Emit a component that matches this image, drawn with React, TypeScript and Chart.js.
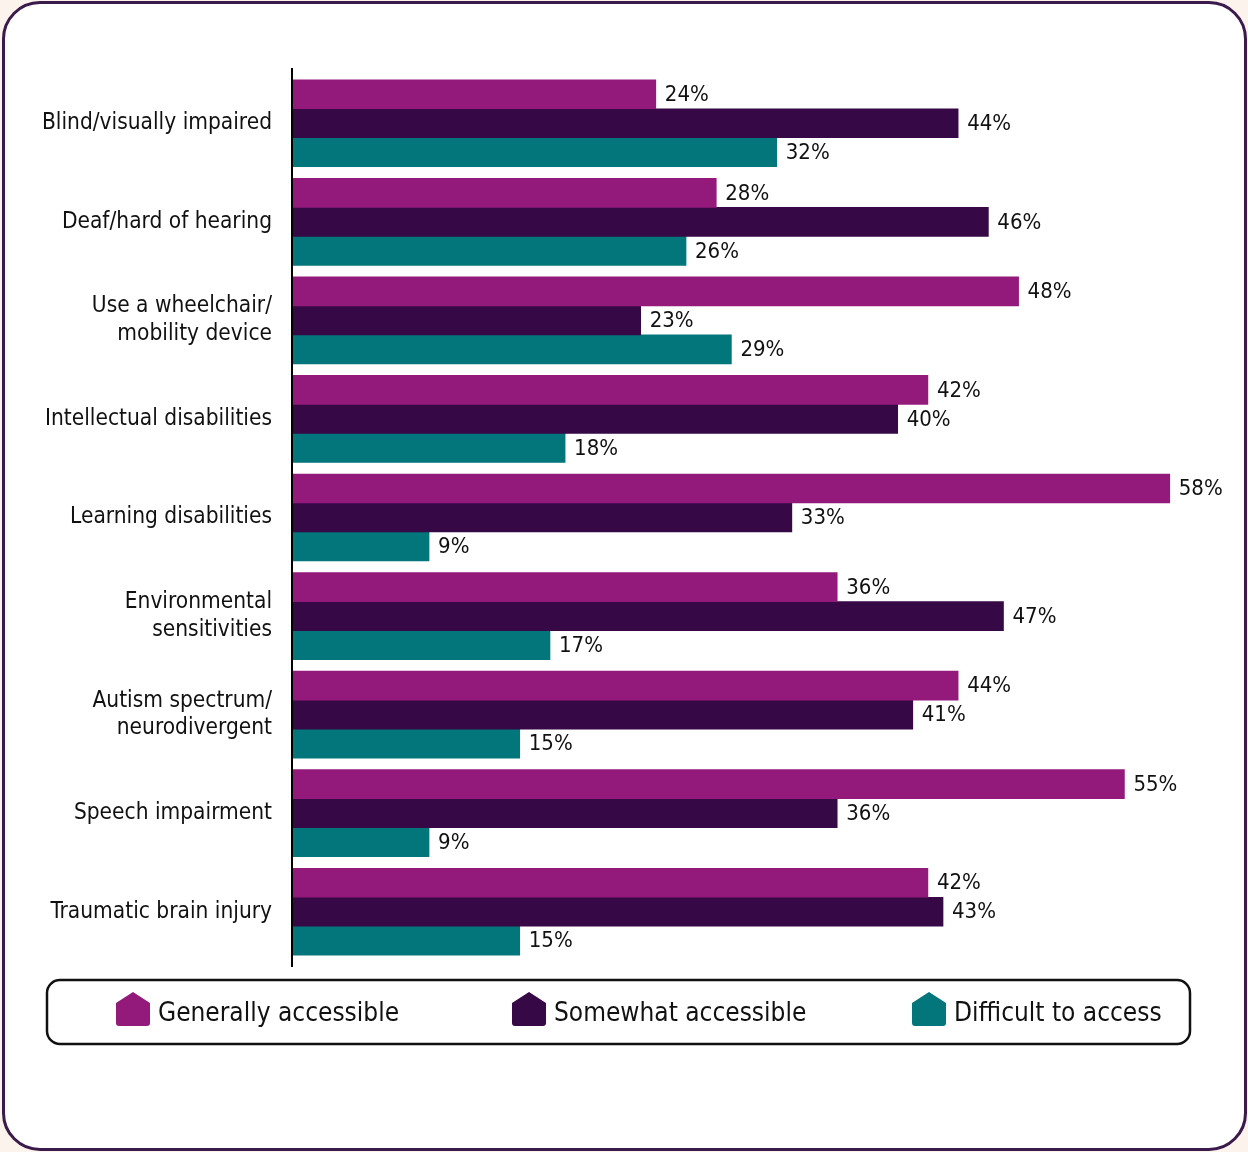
import React, { useEffect, useRef } from "react";
import { Chart, registerables } from "chart.js";
Chart.register(...registerables);

const categories: (string | string[])[] = [
  "Blind/visually impaired",
  "Deaf/hard of hearing",
  ["Use a wheelchair/", "mobility device"],
  "Intellectual disabilities",
  "Learning disabilities",
  ["Environmental", "sensitivities"],
  ["Autism spectrum/", "neurodivergent"],
  "Speech impairment",
  "Traumatic brain injury",
];
const seriesNames = ["Generally accessible", "Somewhat accessible", "Difficult to access"];
const generallyAccessible = [24, 28, 48, 42, 58, 36, 44, 55, 42];
const somewhatAccessible = [44, 46, 23, 40, 33, 47, 41, 36, 43];
const difficultToAccess = [32, 26, 29, 18, 9, 17, 15, 9, 15];
const seriesColors = ["#931a7b", "#360846", "#02767a"];

const FONT = "'Liberation Sans Narrow', 'DejaVu Sans Condensed', 'Roboto', sans-serif";

const axisLinePlugin = {
  id: "axisLine",
  afterDraw(chart: any) {
    const { ctx, chartArea } = chart;
    ctx.save();
    ctx.strokeStyle = "#000";
    ctx.lineWidth = 2;
    ctx.beginPath();
    ctx.moveTo(chartArea.left - 1, chartArea.top - 6);
    ctx.lineTo(chartArea.left - 1, chartArea.bottom + 6);
    ctx.stroke();
    ctx.restore();
  },
};

const valueLabelPlugin = {
  id: "valueLabels",
  afterDatasetsDraw(chart: any) {
    const { ctx } = chart;
    ctx.save();
    ctx.font = `22px ${FONT}`;
    ctx.fillStyle = "#111";
    ctx.textAlign = "left";
    ctx.textBaseline = "middle";
    chart.data.datasets.forEach((ds: any, di: number) => {
      const meta = chart.getDatasetMeta(di);
      meta.data.forEach((bar: any, i: number) => {
        ctx.fillText(`${ds.data[i]}%`, bar.x + 9, bar.y + 1);
      });
    });
    ctx.restore();
  },
};

function housePath(ctx: CanvasRenderingContext2D, x: number, y: number, w: number, h: number) {
  const r = 3;
  const shoulder = y + h * 0.32;
  ctx.beginPath();
  ctx.moveTo(x + w / 2, y);
  ctx.lineTo(x + w, shoulder);
  ctx.lineTo(x + w, y + h - r);
  ctx.quadraticCurveTo(x + w, y + h, x + w - r, y + h);
  ctx.lineTo(x + r, y + h);
  ctx.quadraticCurveTo(x, y + h, x, y + h - r);
  ctx.lineTo(x, shoulder);
  ctx.closePath();
}

const customLegendPlugin = {
  id: "customLegend",
  afterDraw(chart: any) {
    const { ctx } = chart;
    ctx.save();
    const bx = 47, by = 980, bw = 1143, bh = 64, br = 13;
    ctx.strokeStyle = "#111";
    ctx.lineWidth = 2.5;
    ctx.beginPath();
    ctx.moveTo(bx + br, by);
    ctx.lineTo(bx + bw - br, by);
    ctx.arcTo(bx + bw, by, bx + bw, by + br, br);
    ctx.lineTo(bx + bw, by + bh - br);
    ctx.arcTo(bx + bw, by + bh, bx + bw - br, by + bh, br);
    ctx.lineTo(bx + br, by + bh);
    ctx.arcTo(bx, by + bh, bx, by + bh - br, br);
    ctx.lineTo(bx, by + br);
    ctx.arcTo(bx, by, bx + br, by, br);
    ctx.closePath();
    ctx.stroke();
    const itemX = [116, 512, 912];
    ctx.font = `26px ${FONT}`;
    ctx.textAlign = "left";
    ctx.textBaseline = "middle";
    chart.data.datasets.forEach((ds: any, i: number) => {
      const x = itemX[i];
      ctx.fillStyle = ds.backgroundColor;
      housePath(ctx, x, 992, 34, 34);
      ctx.fill();
      ctx.fillStyle = "#111";
      ctx.fillText(ds.label, x + 42, 1014);
    });
    ctx.restore();
  },
};

export default function App() {
  const canvasRef = useRef<HTMLCanvasElement | null>(null);

  useEffect(() => {
    document.body.style.margin = "0";
    document.body.style.overflow = "hidden";
    const canvas = canvasRef.current;
    if (!canvas) return;
    const seriesValues = [generallyAccessible, somewhatAccessible, difficultToAccess];
    const chart = new Chart(canvas, {
      type: "bar",
      data: {
        labels: categories as any,
        datasets: seriesNames.map((name, i) => ({
          label: name,
          data: seriesValues[i],
          backgroundColor: seriesColors[i],
          borderWidth: 0,
          barThickness: 29,
        })),
      },
      options: {
        indexAxis: "y",
        responsive: false,
        maintainAspectRatio: false,
        animation: false,
        layout: { padding: { top: 74, bottom: 191, left: 0, right: 48 } },
        plugins: {
          legend: { display: false },
          tooltip: { enabled: false },
          title: { display: false },
        },
        scales: {
          x: { display: false, min: 0, max: 60 },
          y: {
            grid: { display: false, drawTicks: false },
            border: { display: false },
            ticks: {
              color: "#111",
              padding: 21,
              font: { family: FONT, size: 22.5, lineHeight: 1.24 },
            },
            afterFit: (scale: any) => {
              scale.width = 293;
            },
          },
        },
      } as any,
      plugins: [axisLinePlugin, valueLabelPlugin, customLegendPlugin],
    });
    return () => chart.destroy();
  }, []);

  return (
    <div style={{ position: "relative", width: 1248, height: 1152, background: "#fbf3ec", overflow: "hidden" }}>
      <div
        style={{
          position: "absolute",
          left: 2,
          top: 1,
          width: 1245,
          height: 1150,
          boxSizing: "border-box",
          border: "3px solid #3b1a4c",
          borderRadius: 38,
          background: "#fff",
        }}
      />
      <canvas ref={canvasRef} width={1248} height={1152} style={{ position: "absolute", left: 0, top: 0 }} />
    </div>
  );
}
